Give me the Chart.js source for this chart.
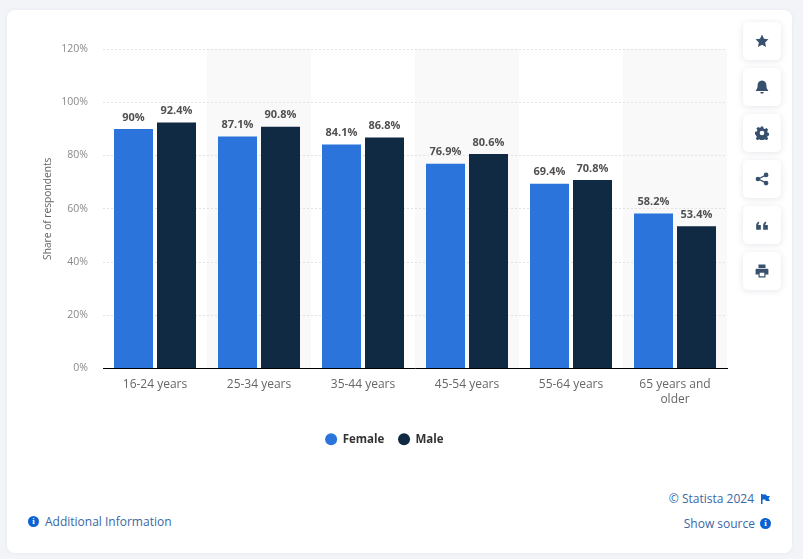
<!DOCTYPE html>
<html>
<head>
<meta charset="utf-8">
<script src="https://cdn.jsdelivr.net/npm/chart.js@4"></script>
<style>
  html, body { margin: 0; padding: 0; width: 803px; height: 559px; overflow: hidden; background: #f2f4f8; font-family: 'Open Sans', 'Noto Sans', sans-serif; }
  .card { position: absolute; left: 7px; top: 10px; width: 785px; height: 543px; background: #fff; border-radius: 8px; box-shadow: 0 0 4px rgba(30,50,90,0.06); }
  .chart-wrap { position: absolute; left: 0; top: 0; width: 803px; height: 455px; }
  .btn { position: absolute; left: 743px; width: 38px; height: 38px; background: #fff; border-radius: 5px; box-shadow: 0 1px 6px rgba(30,50,90,0.12); display: flex; align-items: center; justify-content: center; }
  .btn svg { width: 14px; height: 14px; fill: #37506e; }
  .link { position: absolute; font-size: 12px; line-height: 16px; color: #3a67a5; white-space: nowrap; }
  .dot { position: absolute; width: 11px; height: 11px; border-radius: 50%; background: #0b62d0; color: #fff; font: bold 9px/11px 'Liberation Serif', serif; text-align: center; }
</style>
</head>
<body>
<div class="card"></div>
<div class="chart-wrap"><canvas id="chart" width="803" height="455"></canvas></div>

<div class="btn" style="top:22px"><svg viewBox="0 0 24 24"><path d="M12 1l3.4 7.2 7.6 1-5.6 5.3 1.5 7.8L12 18.5l-6.9 3.8 1.5-7.8L1 9.2l7.6-1z"/></svg></div>
<div class="btn" style="top:68px"><svg viewBox="0 0 24 24"><path d="M12 1c-5 0-7.5 4-7.5 8 0 5-1.5 7-3 8.5v1.5h21v-1.5c-1.500-1.500-3-3.500-3-8.500 0-4-2.500-8-7.500-8zM9 20.500a3 3 0 0 0 6 0z"/></svg></div>
<div class="btn" style="top:114px"><svg viewBox="0 0 24 24"><path fill-rule="evenodd" d="M10 1h4l.7 3.200 2.300 1 2.800-1.700 2.800 2.800-1.700 2.800 1 2.300 3.100.6v4l-3.100.7-1 2.300 1.700 2.800-2.800 2.800-2.800-1.700-2.300 1-.7 3.100h-4l-.7-3.100-2.300-1-2.800 1.700-2.800-2.800 1.700-2.800-1-2.300L0 14V10l3.100-.6 1-2.300L2.400 4.300l2.800-2.800L8 3.200l2.300-1zM12 8a4 4 0 1 0 0 8 4 4 0 0 0 0-8z"/></svg></div>
<div class="btn" style="top:160px"><svg viewBox="0 0 24 24"><circle cx="19" cy="5" r="4"/><circle cx="19" cy="19" r="4"/><circle cx="5" cy="12" r="4"/><path d="M5 11l14-7 1 2-14 7zM5 13l14 7 1-2-14-7z"/></svg></div>
<div class="btn" style="top:206px"><svg viewBox="0 0 24 24"><path d="M2 20v-7c0-4 2-6 5-7v3c-1 .5-1.500 1.500-1.500 3H10v8zM14 20v-7c0-4 2-6 5-7v3c-1 .5-1.500 1.500-1.500 3H22v8z"/></svg></div>
<div class="btn" style="top:252px"><svg viewBox="0 0 24 24"><path fill-rule="evenodd" d="M6 1h12v6H6zM3 8h18a2 2 0 0 1 2 2v8h-5v5H6v-5H1v-8a2 2 0 0 1 2-2zM8 15v6h8v-6z"/></svg></div>

<div class="dot" style="left:28px;top:516px">i</div>
<div class="link" style="left:45px;top:514px">Additional Information</div>
<div class="link" style="right:49px;top:491px">© Statista 2024</div>
<svg style="position:absolute;left:761px;top:494px;width:9px;height:10px" viewBox="0 0 9 10"><path fill="#0b62d0" d="M0 0h1.500v10H0zM1.500 .5H5l1 1.500h3L7.500 4.500 9 7H5L4 5.500H1.500z"/></svg>
<div class="link" style="right:48px;top:516px">Show source</div>
<div class="dot" style="left:760px;top:518px">i</div>

<script>
const categories = ['16-24 years', '25-34 years', '35-44 years', '45-54 years', '55-64 years', ['65 years and', 'older']];
const femaleValues = [90, 87.1, 84.1, 76.9, 69.4, 58.2];
const maleValues = [92.4, 90.8, 86.8, 80.6, 70.8, 53.4];
const fontFamily = "'Open Sans', 'Noto Sans', sans-serif";

// alternating grey bands behind the categories
const bandsPlugin = {
  id: 'bands',
  beforeDraw(chart) {
    const { ctx, chartArea, scales } = chart;
    const w = scales.x.width / categories.length;
    ctx.save();
    ctx.fillStyle = '#f9f9f9';
    categories.forEach((c, i) => {
      if (i % 2 === 1) ctx.fillRect(scales.x.getPixelForValue(i) - w / 2, chartArea.top, w, chartArea.height);
    });
    ctx.restore();
  },
};

// value labels above the bars
const valueLabelsPlugin = {
  id: 'valueLabels',
  afterDatasetsDraw(chart) {
    const { ctx } = chart;
    ctx.save();
    ctx.font = 'bold 11px ' + fontFamily;
    ctx.fillStyle = '#505050';
    ctx.textAlign = 'center';
    ctx.textBaseline = 'bottom';
    chart.data.datasets.forEach((ds, d) => {
      chart.getDatasetMeta(d).data.forEach((bar, i) => {
        ctx.fillText(ds.data[i] + '%', bar.x, bar.y - 6);
      });
    });
    ctx.restore();
  },
};

new Chart(document.getElementById('chart'), {
  type: 'bar',
  data: {
    labels: categories,
    datasets: [
      { label: 'Female', data: femaleValues, backgroundColor: '#2a74db', categoryPercentage: 0.827, barPercentage: 0.907 },
      { label: 'Male', data: maleValues, backgroundColor: '#0f2a42', categoryPercentage: 0.827, barPercentage: 0.907 },
    ],
  },
  plugins: [bandsPlugin, valueLabelsPlugin],
  options: {
    responsive: false,
    animation: false,
    layout: { padding: { top: 49, left: 42, right: 76, bottom: 0 } },
    plugins: {
      tooltip: { enabled: false },
      legend: {
        position: 'bottom',
        labels: {
          usePointStyle: true,
          pointStyle: 'circle',
          boxWidth: 14,
          boxHeight: 8.5,
          padding: 14,
          color: '#333',
          font: { family: fontFamily, size: 11.5, weight: 'bold' },
        },
      },
    },
    scales: {
      x: {
        afterFit(scale) { scale.height = 51; },
        grid: { display: false, drawTicks: false },
        border: { color: '#000', width: 1 },
        ticks: { color: '#666', font: { family: fontFamily, size: 12 }, maxRotation: 0, autoSkip: false, padding: 9 },
      },
      y: {
        min: 0,
        max: 120,
        afterFit(scale) { scale.width = 61; },
        title: { display: true, text: 'Share of respondents', color: '#666', font: { family: fontFamily, size: 10.2 }, padding: { top: 0, bottom: 4 } },
        grid: { color: '#e2e2e2', drawTicks: false },
        border: { display: false, dash: [2, 2] },
        ticks: { stepSize: 20, padding: 15, color: '#8a8a8a', font: { family: fontFamily, size: 10.5 }, callback: v => v + '%' },
      },
    },
  },
});
</script>
</body>
</html>
